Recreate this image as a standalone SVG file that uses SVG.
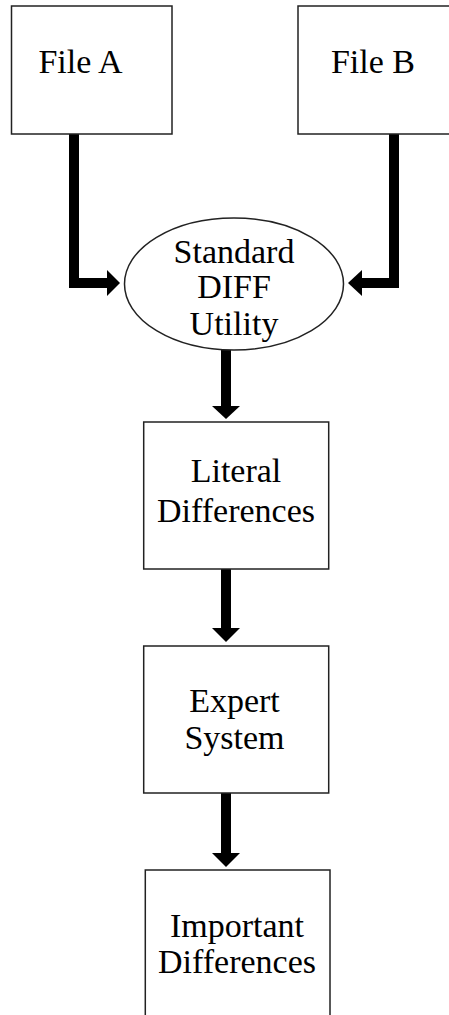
<svg xmlns="http://www.w3.org/2000/svg" width="449" height="1015" viewBox="0 0 449 1015">
<style>
.box{fill:#fff;stroke:#222;stroke-width:1.5}
.lbl{font-family:"Liberation Serif","Times New Roman",serif;font-size:34px;fill:#000;text-anchor:middle}
.bar{fill:none;stroke:#000;stroke-width:10}
.head{fill:#000}
</style>
<rect width="449" height="1015" fill="#fff"/>
<g id="connectors">
<path class="bar" d="M74,134 V283 H108"/>
<polygon class="head" points="107,270 120,283 107,296"/>
<path class="bar" d="M394,134 V283 H361"/>
<polygon class="head" points="362,270 348,283 362,296"/>
<path class="bar" d="M226,350 V407"/>
<polygon class="head" points="212,406 240,406 226,419"/>
<path class="bar" d="M226,569 V629"/>
<polygon class="head" points="212,628 240,628 226,642"/>
<path class="bar" d="M226,793 V854"/>
<polygon class="head" points="212,853 240,853 226,867"/>
</g>
<g id="fileA">
<rect class="box" x="11.5" y="6" width="160.5" height="128"/>
<text class="lbl" x="80.5" y="73">File A</text>
</g>
<g id="fileB">
<rect class="box" x="298" y="6" width="160" height="128"/>
<text class="lbl" x="373" y="73">File B</text>
</g>
<g id="diff">
<ellipse class="box" cx="234" cy="284" rx="109.5" ry="66"/>
<text class="lbl" x="234" y="263">Standard</text>
<text class="lbl" x="234" y="298">DIFF</text>
<text class="lbl" x="234" y="335">Utility</text>
</g>
<g id="literal">
<rect class="box" x="143.7" y="422" width="185" height="147"/>
<text class="lbl" x="236" y="482">Literal</text>
<text class="lbl" x="236" y="522">Differences</text>
</g>
<g id="expert">
<rect class="box" x="143.7" y="646" width="185" height="147"/>
<text class="lbl" x="234.5" y="711.5">Expert</text>
<text class="lbl" x="234.5" y="749">System</text>
</g>
<g id="important">
<rect class="box" x="145.3" y="870" width="184.7" height="160"/>
<text class="lbl" x="237" y="937">Important</text>
<text class="lbl" x="237" y="973">Differences</text>
</g>
</svg>
